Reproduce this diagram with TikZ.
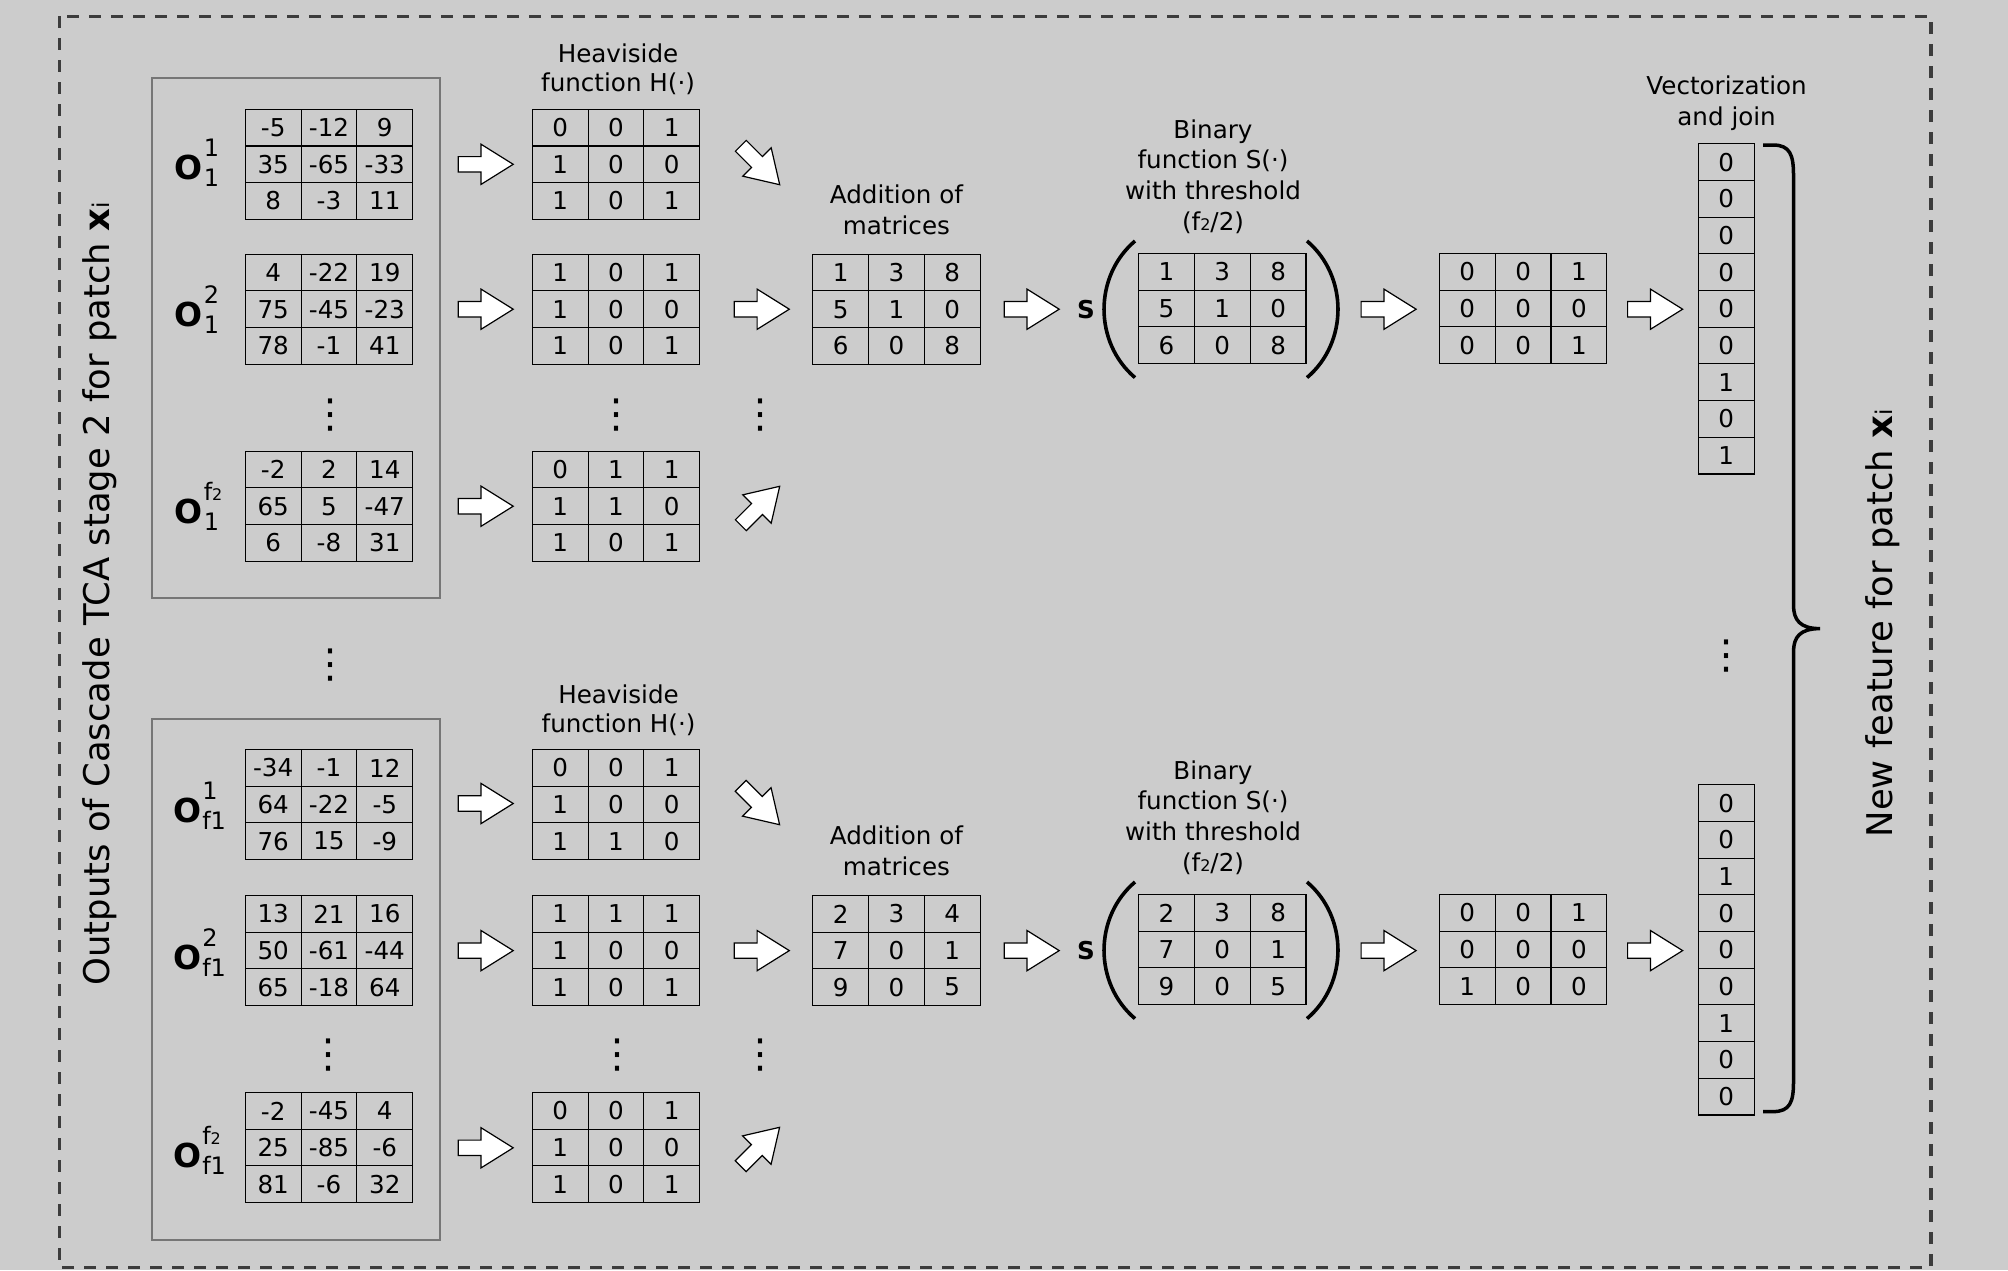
\documentclass[tikz,border=0pt]{standalone}
\usepackage{fontspec}
\setmainfont{DejaVu Sans}
\usetikzlibrary{matrix,shapes.arrows}
\definecolor{bgc}{RGB}{204,204,204}
\definecolor{dashc}{RGB}{60,60,60}
\definecolor{grpc}{RGB}{118,118,118}
\newcommand\smn[1]{{\fontsize{16pt}{16pt}\selectfont #1}}
\newcommand\smi[1]{{\fontsize{23pt}{23pt}\selectfont #1}}
\newcommand\Olab[2]{{\fontsize{33pt}{33pt}\selectfont\bfseries O}\kern1pt\rlap{\raisebox{22.5pt}{#1}}\raisebox{-7pt}{#2}}
\begin{document}
\begin{tikzpicture}[x=1pt,y=-1pt,
  mcell/.style={draw=black, line width=1.1pt, minimum width=55.8pt, minimum height=36.6pt, inner sep=0pt, anchor=center, font=\fontsize{24.6pt}{28pt}\selectfont},
  gridmat/.style={matrix of nodes, nodes={mcell}, column sep=-1.1pt, row sep=-1.1pt, inner sep=0pt},
  vectmat/.style={matrix of nodes, nodes={mcell, minimum height=36.7pt, minimum width=55.7pt}, row sep=-1.1pt, inner sep=0pt},
  blk/.style={single arrow, draw=black, fill=white, line width=1.2pt, minimum height=55pt, text height=14.2pt, text depth=0pt, inner sep=0pt, single arrow head extend=12.4pt, single arrow tip angle=64, single arrow head indent=0pt},
  lbl/.style={font=\fontsize{24.6pt}{30.6pt}\selectfont, align=center, inner sep=0pt, execute at begin node=\strut, execute at end node=\strut},
  hlbl/.style={lbl, font=\fontsize{24.6pt}{28.4pt}\selectfont},
  olab/.style={anchor=base west, inner sep=0pt, font=\fontsize{24pt}{28pt}\selectfont},
  vdts/.style={font=\fontsize{40pt}{40pt}\selectfont, inner sep=0pt},
  grp/.style={draw=grpc, line width=2pt},
  side/.style={rotate=90, anchor=base, inner sep=0pt},
  bracestyle/.style={draw=black, line width=3.5pt},
  parenstyle/.style={draw=black, line width=3.6pt},
  slab/.style={anchor=base, inner sep=0pt, font=\fontsize{24.6pt}{28pt}\selectfont\bfseries}
]
\fill[bgc] (0,0) rectangle (2008,1270);
\useasboundingbox (0,0) rectangle (2008,1270);
\draw[draw=dashc, line width=3.5pt, dash pattern=on 12pt off 10pt] (59.7,16.3) rectangle (1931,1267.6);

% side texts
\node[side, font=\fontsize{35.4pt}{40pt}\selectfont] (lefttxt) at (109.5,594) {Outputs of Cascade TCA stage 2 for patch \textbf{x}\smi{i}};
\node[side, font=\fontsize{35.4pt}{40pt}\selectfont] (righttxt) at (1892,623.4) {New feature for patch \textbf{x}\smi{i}};

% group boxes
\draw[grp] (151.5,77.6) rectangle (440.3,598.4);
\draw[grp] (151.5,719) rectangle (440.3,1240);

% ===== top group =====
\matrix[gridmat] (A1) at (329,164.3) {-5 & -12 & 9\\ 35 & -65 & -33\\ 8 & -3 & 11\\};
\matrix[gridmat] (A2) at (329,309.2) {4 & -22 & 19\\ 75 & -45 & -23\\ 78 & -1 & 41\\};
\matrix[gridmat] (A3) at (329,506.2) {-2 & 2 & 14\\ 65 & 5 & -47\\ 6 & -8 & 31\\};
\node[olab] (OA1) at (174.5,179) {\Olab{1}{1}};
\node[olab] (OA2) at (174.5,326) {\Olab{2}{1}};
\node[olab] (OA3) at (174.5,523) {\Olab{f\smn{2}}{1}};
\node[vdts] (dA) at (330.6,415) {⋮};

\node[hlbl] (hlabA) at (618,71.8) {Heaviside\\function H(·)};
\matrix[gridmat] (H1) at (616,164.3) {0 & 0 & 1\\ 1 & 0 & 0\\ 1 & 0 & 1\\};
\matrix[gridmat] (H2) at (616,309.2) {1 & 0 & 1\\ 1 & 0 & 0\\ 1 & 0 & 1\\};
\matrix[gridmat] (H3) at (616,506.2) {0 & 1 & 1\\ 1 & 1 & 0\\ 1 & 0 & 1\\};
\node[vdts] (dH) at (616,415) {⋮};
\node[vdts] (dD) at (760,415) {⋮};

\node[blk, anchor=tail] (ar1) at (457.6,164.3) {};
\node[blk, anchor=tail] (ar2) at (457.6,309.2) {};
\node[blk, anchor=tail] (ar3) at (457.6,506.2) {};
\node[blk, rotate=-45, anchor=tip] (dg1) at (780.5,185.5) {};
\node[blk, anchor=tail] (ar4) at (733.7,309.2) {};
\node[blk, rotate=45, anchor=tip] (dg2) at (780.5,485.5) {};

\node[lbl] (alabA) at (896.4,214.5) {Addition of\\matrices};
\matrix[gridmat] (AD) at (896.4,309.2) {1 & 3 & 8\\ 5 & 1 & 0\\ 6 & 0 & 8\\};
\node[blk, anchor=tail] (ar5) at (1003.6,309.2) {};
\node[slab] (SA) at (1086,318) {S};
\node[lbl] (blabA) at (1213,179.5) {Binary\\function S(·)\\with threshold\\(f\smn{2}/2)};
\matrix[gridmat] (SM) at (1222.3,308.6) {1 & 3 & 8\\ 5 & 1 & 0\\ 6 & 0 & 8\\};
\draw[parenstyle] (1135,241) .. controls (1093.7,276) and (1093.7,342.6) .. (1135,377.6);
\draw[parenstyle] (1307,241) .. controls (1348.3,276) and (1348.3,342.6) .. (1307,377.6);
\node[blk, anchor=tail] (ar6) at (1360.5,309.2) {};
\matrix[gridmat] (RS) at (1523.1,308.6) {0 & 0 & 1\\ 0 & 0 & 0\\ 0 & 0 & 1\\};
\node[blk, anchor=tail] (ar7) at (1627,309.2) {};
\node[lbl] (vlab) at (1726.6,105) {Vectorization\\and join};
\matrix[vectmat] (V1) at (1726.2,308.85) {0\\0\\0\\0\\0\\0\\1\\0\\1\\};

\node[vdts] (dmid) at (330.6,665) {⋮};
\node[vdts] (dvec) at (1726.4,655.7) {⋮};

% ===== bottom group =====
\matrix[gridmat] (B1) at (329,804.5) {-34 & -1 & 12\\ 64 & -22 & -5\\ 76 & 15 & -9\\};
\matrix[gridmat] (B2) at (329,950.6) {13 & 21 & 16\\ 50 & -61 & -44\\ 65 & -18 & 64\\};
\matrix[gridmat] (B3) at (329,1147.6) {-2 & -45 & 4\\ 25 & -85 & -6\\ 81 & -6 & 32\\};
\node[olab] (OB1) at (173,822) {\Olab{1}{f1}};
\node[olab] (OB2) at (173,969) {\Olab{2}{f1}};
\node[olab] (OB3) at (173,1167) {\Olab{f\smn{2}}{f1}};
\node[vdts] (dB) at (328,1055.5) {⋮};

\node[hlbl] (hlabB) at (618.5,712.8) {Heaviside\\function H(·)};
\matrix[gridmat] (HB1) at (616,804.5) {0 & 0 & 1\\ 1 & 0 & 0\\ 1 & 1 & 0\\};
\matrix[gridmat] (HB2) at (616,950.6) {1 & 1 & 1\\ 1 & 0 & 0\\ 1 & 0 & 1\\};
\matrix[gridmat] (HB3) at (616,1147.6) {0 & 0 & 1\\ 1 & 0 & 0\\ 1 & 0 & 1\\};
\node[vdts] (dHB) at (617,1055.5) {⋮};
\node[vdts] (dDB) at (760,1055.5) {⋮};

\node[blk, anchor=tail] (br1) at (457.6,803.5) {};
\node[blk, anchor=tail] (br2) at (457.6,950.6) {};
\node[blk, anchor=tail] (br3) at (457.6,1147.8) {};
\node[blk, rotate=-45, anchor=tip] (dg3) at (780.4,825.5) {};
\node[blk, anchor=tail] (br4) at (733.7,950.6) {};
\node[blk, rotate=45, anchor=tip] (dg4) at (780.4,1126.5) {};

\node[lbl] (alabB) at (896.4,855.5) {Addition of\\matrices};
\matrix[gridmat] (ADB) at (896.4,950.5) {2 & 3 & 4\\ 7 & 0 & 1\\ 9 & 0 & 5\\};
\node[blk, anchor=tail] (br5) at (1003.6,950.6) {};
\node[slab] (SB) at (1086,959.5) {S};
\node[lbl] (blabB) at (1213,820.5) {Binary\\function S(·)\\with threshold\\(f\smn{2}/2)};
\matrix[gridmat] (SMB) at (1222.3,949.6) {2 & 3 & 8\\ 7 & 0 & 1\\ 9 & 0 & 5\\};
\draw[parenstyle] (1135,882) .. controls (1093.7,917) and (1093.7,983.6) .. (1135,1018.6);
\draw[parenstyle] (1307,882) .. controls (1348.3,917) and (1348.3,983.6) .. (1307,1018.6);
\node[blk, anchor=tail] (br6) at (1360.5,950.6) {};
\matrix[gridmat] (RSB) at (1523.1,949.6) {0 & 0 & 1\\ 0 & 0 & 0\\ 1 & 0 & 0\\};
\node[blk, anchor=tail] (br7) at (1627,950.6) {};
\matrix[vectmat] (V2) at (1726.2,949.85) {0\\0\\1\\0\\0\\0\\1\\0\\0\\};

% brace
\draw[bracestyle] (1763,145) -- (1773,145) .. controls (1790,145) and (1793.5,155) .. (1793.5,175) -- (1793.5,605) .. controls (1793.5,620) and (1800,628.6) .. (1820,628.6)
  .. controls (1800,628.6) and (1793.5,637) .. (1793.5,652) -- (1793.5,1082) .. controls (1793.5,1102) and (1790,1111.6) .. (1773,1111.6) -- (1763,1111.6);
\end{tikzpicture}
\end{document}
